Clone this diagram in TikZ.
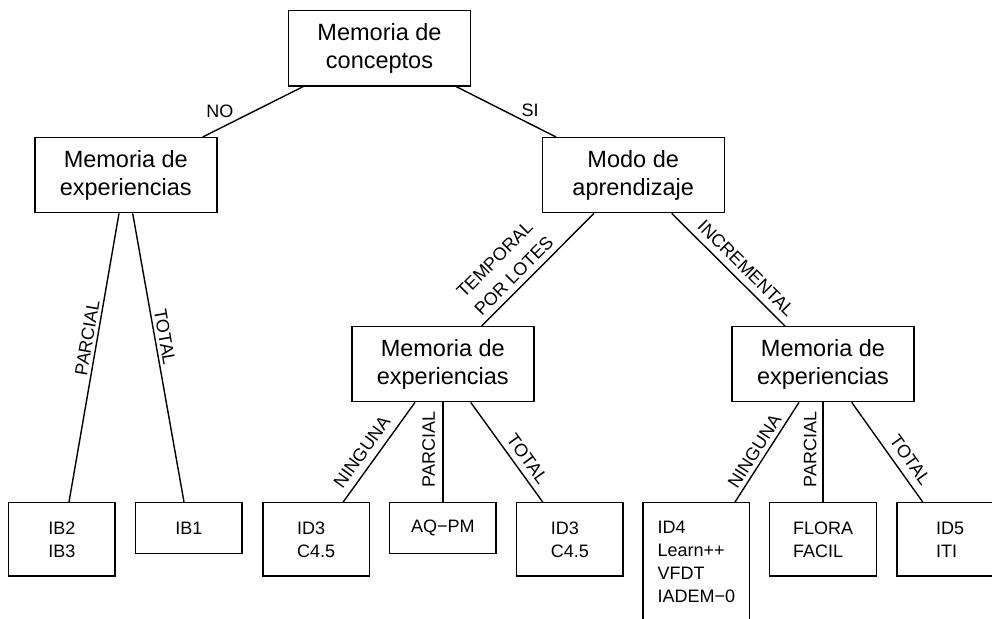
\documentclass[tikz,border=0pt]{standalone}
\usepackage{fontspec}
\setmainfont{Liberation Sans}
\usetikzlibrary{calc}
\begin{document}
\begin{tikzpicture}[x=1pt,y=-1pt]
\tikzset{
  mainbox/.style={draw, line width=1.4pt, minimum width=182pt, minimum height=75pt,
    align=center, inner sep=0pt, font=\fontsize{23.5}{28}\selectfont},
  leafbox/.style={draw, line width=1.4pt, minimum width=106.5pt, align=left,
    inner sep=0pt, font=\fontsize{18}{23}\selectfont},
  lbl/.style={font=\fontsize{18}{25}\selectfont, inner xsep=0pt, inner ysep=#1, above},
  link/.style={line width=1.4pt}
}
\useasboundingbox (0,0) rectangle (992,618);
\clip (0,0) rectangle (992,618);

% decision nodes
\node[mainbox] (top)  at (379.5,48.3)  {Memoria de\\conceptos};
\node[mainbox] (memL) at (125.8,175.2) {Memoria de\\experiencias};
\node[mainbox] (modo) at (633.2,175.2) {Modo de\\aprendizaje};
\node[mainbox] (memM) at (442.8,364.2) {Memoria de\\experiencias};
\node[mainbox] (memR) at (823.0,364.2) {Memoria de\\experiencias};

% leaves (top edge at y = 502.7)
\node[leafbox, minimum height=73.3pt] (ib23)  at (61.8,539.35)  {IB2\\IB3};
\node[leafbox, minimum height=51pt]   (ib1)   at (188.8,528.2)  {IB1};
\node[leafbox, minimum height=73.3pt] (id3a)  at (316.1,539.35) {ID3\\C4.5};
\node[leafbox, minimum height=51pt]   (aqpm)  at (442.8,528.2)  {AQ−PM};
\node[leafbox, minimum height=73.3pt] (id3b)  at (569.8,539.35) {ID3\\C4.5};
\node[leafbox, minimum height=119pt]  (id4)   at (696.3,562.2)  {ID4\\Learn++\\VFDT\\IADEM−0};
\node[leafbox, minimum height=73.3pt] (flora) at (823.0,539.35) {FLORA\\FACIL};
\node[leafbox, minimum height=73.3pt] (id5)   at (950.2,539.35) {ID5\\ITI};

% first level
\draw[link] ($(top.south)+(-76.2,0)$) -- node[lbl=10pt, pos=0.83] {NO} ($(memL.north)+(76.9,0)$);
\draw[link] ($(top.south)+(76.5,0)$) -- node[lbl=6pt, pos=0.74] {SI} ($(modo.north)+(-77.2,0)$);

% left subtree
\draw[link] ($(memL.south)+(-6.8,0)$) -- node[lbl=3pt, sloped, pos=0.438] {PARCIAL} ($(ib23.north)+(7.2,0)$);
\draw[link] ($(memL.south)+(6.9,0)$) -- node[lbl=3pt, sloped, pos=0.434] {TOTAL} ($(ib1.north)+(-4.8,0)$);

% learning mode
\draw[link] ($(modo.south)+(-39.2,0)$) -- node[lbl=5.7pt, sloped, pos=0.634, align=left] {TEMPORAL\\POR LOTES} ($(memM.north)+(38.9,0)$);
\draw[link] ($(modo.south)+(38.5,0)$) -- node[lbl=6.5pt, sloped, pos=0.574] {INCREMENTAL} ($(memR.north)+(-38,0)$);

% batch subtree
\draw[link] ($(memM.south)+(-27.8,0)$) -- node[lbl=7pt, sloped, pos=0.58] {NINGUNA} ($(id3a.north)+(27.1,0)$);
\draw[link] (memM.south) -- node[lbl=7pt, rotate=90, pos=0.475] {PARCIAL} (aqpm.north);
\draw[link] ($(memM.south)+(27.9,0)$) -- node[lbl=5.7pt, sloped, pos=0.644] {TOTAL} ($(id3b.north)+(-27.1,0)$);

% incremental subtree
\draw[link] ($(memR.south)+(-24,0)$) -- node[lbl=4pt, sloped, pos=0.55] {NINGUNA} ($(id4.north)+(38.7,0)$);
\draw[link] (memR.south) -- node[lbl=5.8pt, rotate=90, pos=0.475] {PARCIAL} (flora.north);
\draw[link] ($(memR.south)+(28.7,0)$) -- node[lbl=7.3pt, sloped, pos=0.66] {TOTAL} ($(id5.north)+(-27.5,0)$);
\end{tikzpicture}
\end{document}
